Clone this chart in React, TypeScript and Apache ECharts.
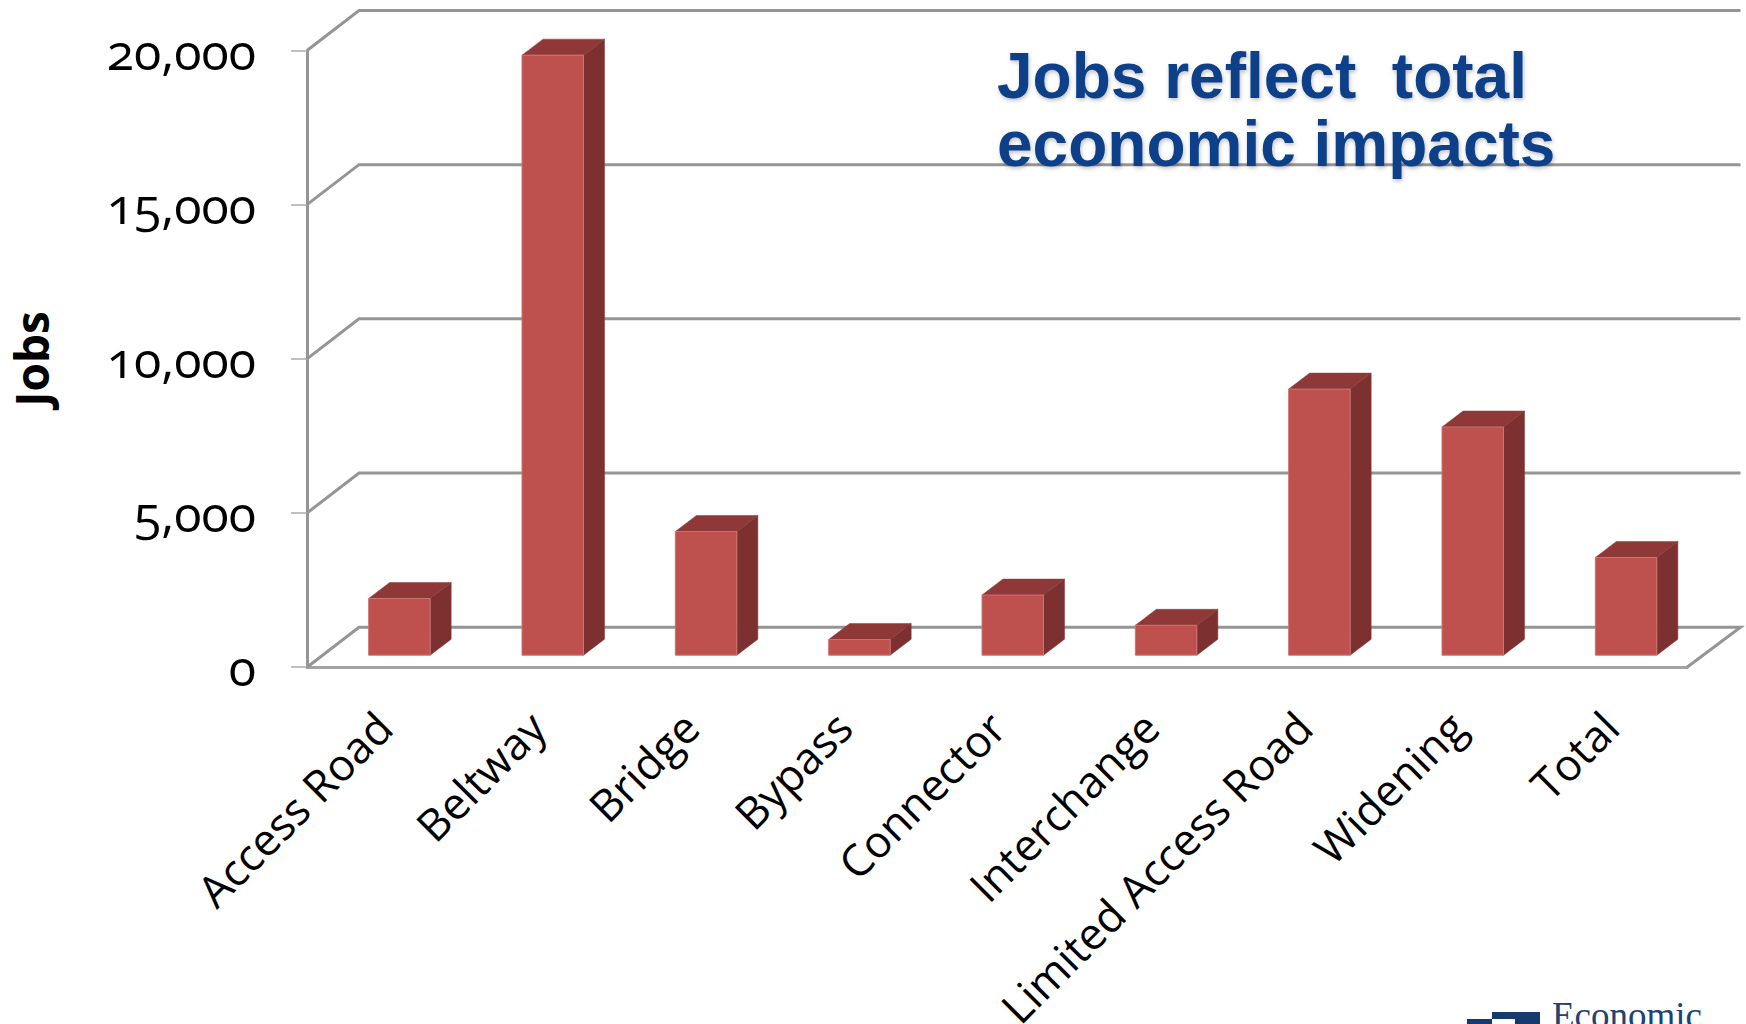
import React, { useEffect, useRef } from "react";
import * as echarts from "echarts";

const categories = ["Access Road", "Beltway", "Bridge", "Bypass", "Connector", "Interchange", "Limited Access Road", "Widening", "Total"];
const jobs = [1840, 19460, 4010, 510, 1950, 970, 8630, 7400, 3170];
const gridValues = [0, 5000, 10000, 15000, 20000];
const titleLines = ["Jobs reflect  total", "economic impacts"];
const axisName = "Jobs";
const logoWord = "Economic";

const WALL_DX = 52;
const WALL_DY = 40;
const WALL_RIGHT = 1740.5;
const BAR_WIDTH = 61.5;
const BAR_SHIFT = 15;
const BAR_LIFT = 12;
const DEPTH_DX = 21;
const DEPTH_DY = 16;
const FONT = "'Open Sans'";

export default function App() {
  const ref = useRef<HTMLDivElement>(null);

  useEffect(() => {
    document.body.style.margin = "0";
    const chart = echarts.init(ref.current!, null, { renderer: "svg" });

    const renderWall = (params: any, api: any) => {
      const cs = params.coordSys;
      const y = api.coord([0, api.value(0)])[1];
      const left = cs.x;
      const right = cs.x + cs.width;
      const isFloor = api.value(0) === 0;
      const points = isFloor
        ? [[left, y], [left + WALL_DX, y - WALL_DY], [WALL_RIGHT, y - WALL_DY], [right, y]]
        : [[left, y], [left + WALL_DX, y - WALL_DY], [WALL_RIGHT, y - WALL_DY]];
      return {
        type: "polyline",
        shape: { points },
        style: { fill: "none", stroke: "#959595", lineWidth: 3 },
      };
    };

    const renderBar = (_: any, api: any) => {
      const idx = api.value(0);
      const top = api.coord([idx, api.value(1)]);
      const base = api.coord([idx, 0]);
      const x0 = top[0] - BAR_SHIFT;
      const x1 = x0 + BAR_WIDTH;
      const y0 = top[1] - BAR_LIFT;
      const y1 = base[1] - BAR_LIFT;
      return {
        type: "group",
        children: [
          {
            type: "polygon",
            shape: { points: [[x1, y0], [x1 + DEPTH_DX, y0 - DEPTH_DY], [x1 + DEPTH_DX, y1 - DEPTH_DY], [x1, y1]] },
            style: { fill: "#7c3130", stroke: "#7c3130", lineWidth: 0.5 },
          },
          {
            type: "polygon",
            shape: { points: [[x0, y0], [x0 + DEPTH_DX, y0 - DEPTH_DY], [x1 + DEPTH_DX, y0 - DEPTH_DY], [x1, y0]] },
            style: { fill: "#8e3937", stroke: "#8e3937", lineWidth: 0.5 },
          },
          {
            type: "rect",
            shape: { x: x0, y: y0, width: BAR_WIDTH, height: y1 - y0 },
            style: { fill: "#be504d", stroke: "#cc7471", lineWidth: 1 },
          },
        ],
      };
    };

    chart.setOption({
      animation: false,
      backgroundColor: "#ffffff",
      grid: { left: 307, right: 59, top: 50.5, height: 616.7, outerBoundsMode: "none" },
      title: {
        text: titleLines.join("\n"),
        left: 997,
        top: 42,
        padding: 0,
        textStyle: {
          fontFamily: "'Liberation Sans'",
          fontWeight: "bold",
          fontSize: 64,
          lineHeight: 68,
          color: "#0a4088",
          textShadowColor: "rgba(0,0,0,0.25)",
          textShadowBlur: 4,
          textShadowOffsetX: 1,
          textShadowOffsetY: 2,
        },
      },
      xAxis: {
        type: "category",
        data: categories,
        axisLine: { lineStyle: { color: "#a3a3a3", width: 3 } },
        axisTick: { length: 15, lineStyle: { color: "#ababab", width: 1.5 } },
        axisLabel: { rotate: 45, interval: 0, margin: 52, fontFamily: FONT, fontSize: 44, color: "#000000" },
      },
      yAxis: {
        type: "value",
        min: 0,
        max: 20000,
        interval: 5000,
        name: axisName,
        nameLocation: "middle",
        nameGap: 253,
        nameTextStyle: { fontFamily: FONT, fontWeight: "bold", fontSize: 46, color: "#000000" },
        axisLine: { show: true, lineStyle: { color: "#959595", width: 3 } },
        axisTick: { show: true, length: 16, lineStyle: { color: "#ababab", width: 1.5 } },
        axisLabel: {
          margin: 51,
          fontFamily: FONT,
          fontSize: 50,
          color: "#000000",
          formatter: (v: number) => v.toLocaleString("en-US"),
        },
        splitLine: { show: false },
      },
      series: [
        { type: "custom", renderItem: renderWall, data: gridValues.map((v) => [v]), clip: false, silent: true, z: 1 },
        { type: "custom", renderItem: renderBar, data: jobs.map((v, i) => [i, v]), encode: { x: 0, y: 1 }, clip: false, z: 3 },
      ],
      graphic: [
        { type: "rect", shape: { x: 1467, y: 1019, width: 25, height: 5 }, style: { fill: "#163a70" } },
        { type: "rect", shape: { x: 1492, y: 1012, width: 48, height: 7 }, style: { fill: "#163a70" } },
        { type: "rect", shape: { x: 1515, y: 1019, width: 25, height: 5 }, style: { fill: "#163a70" } },
        {
          type: "text",
          x: 1552,
          y: 1034,
          style: { text: logoWord, fontFamily: "'Liberation Serif'", fontSize: 37, fill: "#1d4274", textVerticalAlign: "bottom" },
        },
      ],
    });

    return () => chart.dispose();
  }, []);

  return (
    <>
      <style>{`#chart-root text { font-feature-settings: "onum" 1; }`}</style>
      <div id="chart-root" ref={ref} style={{ position: "fixed", left: 0, top: 0, width: 1746, height: 1024 }} />
    </>
  );
}
